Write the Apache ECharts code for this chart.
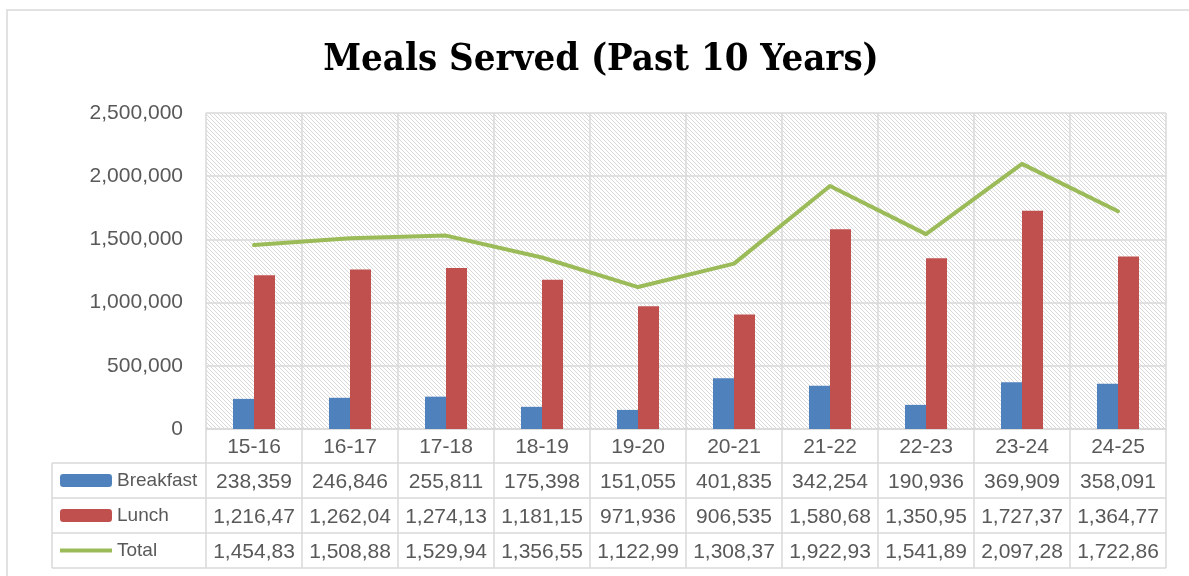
<!DOCTYPE html>
<html>
<head>
<meta charset="utf-8">
<script src="https://cdn.jsdelivr.net/npm/echarts@6/dist/echarts.min.js"></script>
<style>html,body{margin:0;padding:0;background:#fff;}#c{width:1189px;height:576px;}</style>
</head>
<body>
<div id="c"></div>
<script>
const categories = ['15-16','16-17','17-18','18-19','19-20','20-21','21-22','22-23','23-24','24-25'];
const breakfast = [238359, 246846, 255811, 175398, 151055, 401835, 342254, 190936, 369909, 358091];
const lunch = [1216472, 1262040, 1274130, 1181155, 971936, 906535, 1580680, 1350955, 1727375, 1364775];
const total = [1454831, 1508886, 1529941, 1356553, 1122991, 1308370, 1922934, 1541891, 2097284, 1722866];
const yTicks = [0, 500000, 1000000, 1500000, 2000000, 2500000];

const GRAY = '#d9d9d9';
const TXT = '#595959';
const FONT = '"Liberation Sans", Arial, sans-serif';

function fmt(v) { return v.toLocaleString('en-US'); }
function cell(v) { return fmt(v).slice(0, 8); }

// hatch pattern (downward diagonal)
const pc = document.createElement('canvas');
pc.width = 8; pc.height = 8;
const pctx = pc.getContext('2d');
pctx.fillStyle = '#ffffff';
pctx.fillRect(0, 0, 8, 8);
pctx.fillStyle = '#d9d9d9';
for (let y = 0; y < 8; y++) {
  pctx.fillRect(y % 8, y, 1, 1);
  pctx.fillRect((y + 4) % 8, y, 1, 1);
}

const chart = echarts.init(document.getElementById('c'), null, { renderer: 'canvas' });
const option = {
  animation: false,
  backgroundColor: '#fff',
  title: {
    text: 'Meals Served (Past 10 Years)',
    left: 601,
    textAlign: 'center',
    top: 41,
    padding: 0,
    textStyle: { fontFamily: '"DejaVu Serif Condensed", "DejaVu Serif", serif', fontWeight: 'bold', fontSize: 38, color: '#000' }
  },
  legend: {
    orient: 'vertical',
    left: 60,
    top: 470,
    padding: 0,
    itemWidth: 52,
    itemHeight: 13,
    itemGap: 14,
    selectedMode: false,
    textStyle: { fontFamily: FONT, fontSize: 19, color: TXT, lineHeight: 21 },
    data: [
      { name: 'Breakfast' },
      { name: 'Lunch' },
      { name: 'Total', icon: 'path://M0 0H52V4H0Z' }
    ]
  },
  grid: {
    left: 206, right: 23, top: 113, bottom: 147,
    show: true,
    borderWidth: 0,
    backgroundColor: { image: pc, repeat: 'repeat' }
  },
  xAxis: {
    type: 'category',
    data: categories,
    boundaryGap: true,
    axisLine: { show: true, lineStyle: { color: GRAY, width: 1.5 } },
    axisTick: { show: true, alignWithLabel: false, length: 139, lineStyle: { color: GRAY, width: 1.5 } },
    splitLine: { show: true, lineStyle: { color: GRAY, width: 1.5 } },
    axisLabel: {
      margin: 1,
      interval: 0,
      color: TXT,
      fontFamily: FONT,
      fontSize: 21,
      lineHeight: 35,
      formatter: function (value, idx) {
        return [value, cell(breakfast[idx]), cell(lunch[idx]), cell(total[idx])].join('\n');
      }
    }
  },
  yAxis: {
    type: 'value',
    min: yTicks[0],
    max: yTicks[yTicks.length - 1],
    interval: yTicks[1] - yTicks[0],
    axisLine: { show: false },
    axisTick: { show: false },
    splitLine: { show: true, lineStyle: { color: GRAY, width: 1.5 } },
    axisLabel: {
      margin: 23,
      color: TXT,
      fontFamily: FONT,
      fontSize: 21,
      formatter: function (v) { return fmt(v); }
    }
  },
  series: [
    { name: 'Breakfast', type: 'bar', data: breakfast, barWidth: 21, barGap: '0%', itemStyle: { color: '#4F81BD' }, z: 2 },
    { name: 'Lunch', type: 'bar', data: lunch, barWidth: 21, barGap: '0%', itemStyle: { color: '#C0504D' }, z: 2 },
    { name: 'Total', type: 'line', data: total, symbol: 'none', showSymbol: false, itemStyle: { color: '#9BBB59' },
      lineStyle: { color: '#9BBB59', width: 4, cap: 'round', join: 'round' }, z: 3 }
  ],
  graphic: [
    { type: 'rect', shape: { x: 7, y: 10, width: 1200, height: 600 }, style: { fill: 'none', stroke: GRAY, lineWidth: 1.5 }, silent: true, z: 0 },
    { type: 'line', shape: { x1: 52, y1: 463, x2: 1166, y2: 463 }, style: { stroke: GRAY, lineWidth: 1.5 }, silent: true },
    { type: 'line', shape: { x1: 52, y1: 498, x2: 1166, y2: 498 }, style: { stroke: GRAY, lineWidth: 1.5 }, silent: true },
    { type: 'line', shape: { x1: 52, y1: 533, x2: 1166, y2: 533 }, style: { stroke: GRAY, lineWidth: 1.5 }, silent: true },
    { type: 'line', shape: { x1: 52, y1: 568, x2: 1166, y2: 568 }, style: { stroke: GRAY, lineWidth: 1.5 }, silent: true },
    { type: 'line', shape: { x1: 52, y1: 463, x2: 52, y2: 568 }, style: { stroke: GRAY, lineWidth: 1.5 }, silent: true }
  ]
};
chart.setOption(option);
</script>
</body>
</html>
